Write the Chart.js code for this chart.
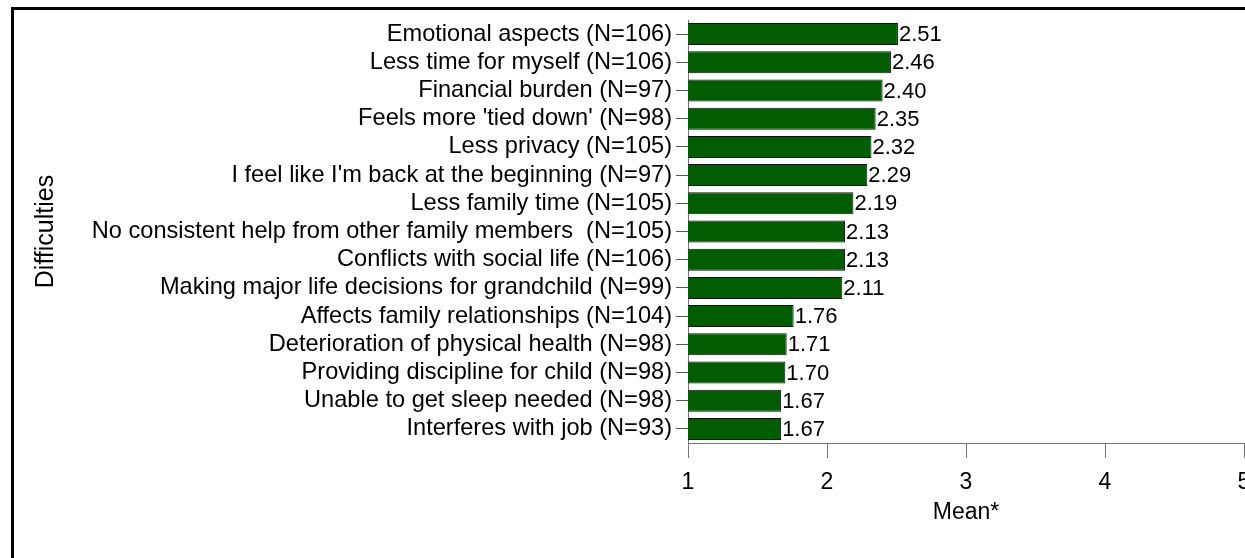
<!DOCTYPE html>
<html>
<head>
<meta charset="utf-8">
<script src="https://cdn.jsdelivr.net/npm/chart.js@4.4.1/dist/chart.umd.min.js"></script>
<style>
  html, body { margin: 0; padding: 0; background: #fff; overflow: hidden; width: 1245px; height: 558px; }
  #frame { position: absolute; left: 11px; top: 7px; width: 2000px; height: 2000px;
           border-left: 3px solid #000; border-top: 3px solid #000; }
  #chartBox { position: absolute; left: 0; top: 0; }
</style>
</head>
<body>
<div id="frame"></div>
<div id="chartBox"><canvas id="meanChart" width="1300" height="558"></canvas></div>
<script>
// difficulties, sample sizes and mean scores
const difficulties = [
    "Emotional aspects",
    "Less time for myself",
    "Financial burden",
    "Feels more 'tied down'",
    "Less privacy",
    "I feel like I'm back at the beginning",
    "Less family time",
    "No consistent help from other family members ",
    "Conflicts with social life",
    "Making major life decisions for grandchild",
    "Affects family relationships",
    "Deterioration of physical health",
    "Providing discipline for child",
    "Unable to get sleep needed",
    "Interferes with job"
]
const counts = [106, 106, 97, 98, 105, 97, 105, 105, 106, 99, 104, 98, 98, 98, 93]
const means = [2.51, 2.46, 2.40, 2.35, 2.32, 2.29, 2.19, 2.13, 2.13, 2.11, 1.76, 1.71, 1.70, 1.67, 1.67]
const meanTicks = [1, 2, 3, 4, 5]

const labels = difficulties.map((d, i) => d + " (N=" + counts[i] + ")")

const FONT = '"Liberation Sans", Arial, Helvetica, sans-serif'

// draws the value next to the end of each bar
const valueLabels = {
    id: 'valueLabels',
    afterDatasetsDraw(chart) {
        const ctx = chart.ctx
        const meta = chart.getDatasetMeta(0)
        ctx.save()
        ctx.font = '22px ' + FONT
        ctx.fillStyle = '#000'
        ctx.textAlign = 'left'
        ctx.textBaseline = 'middle'
        meta.data.forEach((bar, i) => {
            ctx.fillText(means[i].toFixed(2), bar.x + 1, bar.y + 1)
        })
        ctx.restore()
    }
}

new Chart("meanChart", {
    type: 'bar',
    data: {
        labels: labels,
        datasets: [{
            data: means,
            backgroundColor: '#005e00',
            borderColor: '#111',
            borderWidth: 1,
            borderSkipped: false,
            barPercentage: 0.78,
            categoryPercentage: 1
        }]
    },
    options: {
        indexAxis: 'y',
        responsive: false,
        animation: false,
        layout: { padding: { left: 0, top: 20, right: 56, bottom: 0 } },
        plugins: {
            legend: { display: false },
            tooltip: { enabled: false }
        },
        scales: {
            x: {
                type: 'linear',
                min: 1,
                max: 5,
                afterBuildTicks: (scale) => { scale.ticks = meanTicks.map(v => ({ value: v })) },
                afterFit: (scale) => { scale.height = 115 },
                grid: { drawOnChartArea: false, drawTicks: true, tickLength: 15, color: '#777' },
                border: { color: '#777', width: 1 },
                ticks: { color: '#000', font: { family: FONT, size: 23 }, padding: 11 },
                title: { display: true, text: 'Mean*', color: '#000',
                         font: { family: FONT, size: 23 }, padding: { top: 0, bottom: 32 } }
            },
            y: {
                afterFit: (scale) => { scale.width = 688 },
                grid: { drawOnChartArea: false, drawTicks: true, tickLength: 12, color: '#555', offset: false },
                border: { color: '#777', width: 1 },
                ticks: { color: '#000', font: { family: FONT, size: 23.6 }, padding: 4, autoSkip: false },
                title: { display: true, text: 'Difficulties', color: '#000',
                         font: { family: FONT, size: 25 }, padding: { top: 31, bottom: 0 } }
            }
        }
    },
    plugins: [valueLabels]
})
</script>
</body>
</html>
